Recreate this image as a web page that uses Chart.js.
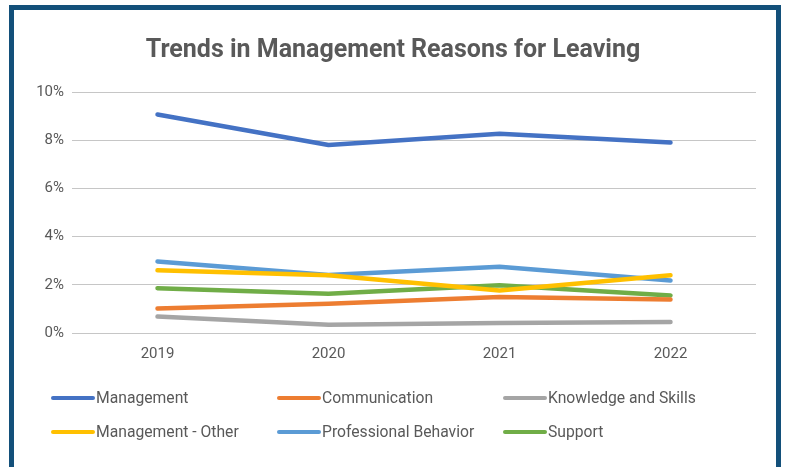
<!DOCTYPE html>
<html>
<head>
<meta charset="utf-8">
<title>Trends in Management Reasons for Leaving</title>
<script src="https://cdn.jsdelivr.net/npm/chart.js@4/dist/chart.umd.min.js"></script>
<style>
  html, body { margin: 0; padding: 0; background: #ffffff; overflow: hidden; }
  #wrap { position: relative; width: 786px; height: 467px; overflow: hidden; }
  #frame {
    position: absolute; left: 9px; top: 5px; width: 772px; height: 520px;
    box-sizing: border-box; border: 5px solid #13507a; border-bottom: none;
    pointer-events: none;
  }
  canvas { position: absolute; left: 0; top: 0; }
</style>
</head>
<body>
<div id="wrap">
  <canvas id="chart" width="786" height="467"></canvas>
  <div id="frame"></div>
</div>
<script>
// Survey years on the x axis
const years = ['2019', '2020', '2021', '2022'];

// Share of leavers citing each reason (percent)
const management           = [9.07, 7.80, 8.27, 7.90];
const communication        = [1.02, 1.21, 1.49, 1.39];
const knowledgeAndSkills   = [0.68, 0.34, 0.41, 0.46];
const managementOther      = [2.60, 2.40, 1.76, 2.40];
const professionalBehavior = [2.97, 2.41, 2.75, 2.18];
const support              = [1.86, 1.63, 1.98, 1.56];

// y axis ticks (percent)
const yTicks = [0, 2, 4, 6, 8, 10];

const seriesNames  = ['Management', 'Communication', 'Knowledge and Skills',
                      'Management - Other', 'Professional Behavior', 'Support'];
const seriesValues = [management, communication, knowledgeAndSkills,
                      managementOther, professionalBehavior, support];
const seriesColors = ['#4472c4', '#ed7d31', '#a5a5a5', '#ffc000', '#5b9bd5', '#70ad47'];

const FONT = "Roboto, 'Liberation Sans', sans-serif";
const TEXT = '#595959';

// Legend laid out as a 3-column grid under the plot
const gridLegend = {
  id: 'gridLegend',
  afterDraw(chart) {
    const ctx = chart.ctx;
    const colX = [51, 277, 503];
    const rowY = [398, 432];
    const lineLen = 42;
    ctx.save();
    ctx.font = '15.7px ' + FONT;
    ctx.textBaseline = 'middle';
    ctx.textAlign = 'left';
    chart.data.datasets.forEach((ds, i) => {
      const x = colX[i % 3];
      const y = rowY[Math.floor(i / 3)];
      ctx.strokeStyle = ds.borderColor;
      ctx.lineWidth = 4;
      ctx.lineCap = 'round';
      ctx.beginPath();
      ctx.moveTo(x + 2, y);
      ctx.lineTo(x + lineLen, y);
      ctx.stroke();
      ctx.fillStyle = TEXT;
      ctx.fillText(ds.label, x + lineLen + 3, y + 1);
    });
    ctx.restore();
  }
};

new Chart(document.getElementById('chart'), {
  type: 'line',
  data: {
    labels: years,
    datasets: seriesNames.map((name, i) => ({
      label: name,
      data: seriesValues[i],
      borderColor: seriesColors[i],
      backgroundColor: seriesColors[i],
      borderWidth: 4.5,
      borderCapStyle: 'round',
      borderJoinStyle: 'round',
      pointRadius: 0,
      pointHoverRadius: 0,
      tension: 0,
      fill: false
    }))
  },
  options: {
    responsive: false,
    animation: false,
    layout: { padding: { left: 30, right: 30, top: 0, bottom: 94 } },
    plugins: {
      legend: { display: false },
      tooltip: { enabled: false },
      title: {
        display: true,
        text: 'Trends in Management Reasons for Leaving',
        color: TEXT,
        font: { family: FONT, size: 25, weight: 'bold', lineHeight: 1.2 },
        padding: { top: 36, bottom: 26 }
      }
    },
    scales: {
      x: {
        offset: true,
        grid: { display: false, drawTicks: false },
        border: { display: false },
        ticks: { color: TEXT, font: { family: FONT, size: 15 }, padding: 12 },
        afterFit(scale) { scale.height = 40; }
      },
      y: {
        min: 0,
        max: 10,
        afterBuildTicks(scale) { scale.ticks = yTicks.map(v => ({ value: v })); },
        grid: { color: '#c6c6c6', lineWidth: 1, drawTicks: false },
        border: { display: false },
        ticks: {
          color: TEXT,
          font: { family: FONT, size: 15 },
          padding: 8,
          callback: v => v + '%'
        },
        afterFit(scale) { scale.width = 42; }
      }
    }
  },
  plugins: [gridLegend]
});
</script>
</body>
</html>
